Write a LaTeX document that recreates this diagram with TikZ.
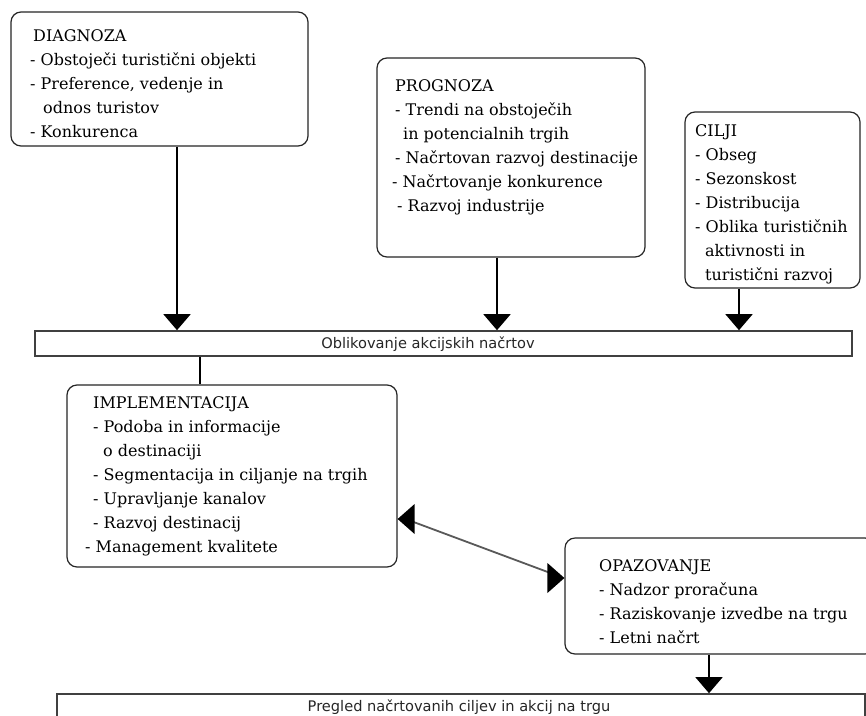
\documentclass[tikz,border=0pt]{standalone}
\usepackage{fontspec}
\setmainfont{DejaVu Serif}
\newfontfamily\barfont{DejaVu Sans}
\usetikzlibrary{arrows.meta,calc}
\begin{document}
\begin{tikzpicture}[x=1pt,y=-1pt,
  box/.style={draw=black!85, line width=1.2pt, rounded corners=10pt, inner sep=0pt, fill=white},
  bar/.style={draw=black!75, line width=1.6pt, inner sep=0pt, fill=white},
  txt/.style={anchor=north west, inner sep=0pt, align=left, font=\fontsize{16}{24}\selectfont},
  bartxt/.style={inner sep=0pt, text=black!85, font=\barfont\fontsize{14.6}{16}\selectfont},
  arr/.style={line width=1.6pt, -{Triangle[width=27pt,length=16pt]}},
  link/.style={line width=1.6pt},
  dlink/.style={line width=1.8pt, draw=black!65},
  tip/.style={fill=black}]
\useasboundingbox (0,0) rectangle (866,715);
\clip (0,0) rectangle (866,715);
\fill[white] (0,0) rectangle (866,715);

% boxes
\node[box, minimum width=297pt, minimum height=134pt] (diag) at (159.5,79) {};
\node[box, minimum width=268pt, minimum height=199pt] (prog) at (511,157.5) {};
\node[box, minimum width=175pt, minimum height=176pt] (cilji) at (772.5,200) {};
\node[bar, minimum width=817pt, minimum height=25pt] (bar1) at (443.5,343.5) {};
\node[box, minimum width=330pt, minimum height=182pt] (impl) at (232,476) {};
\node[box, minimum width=310pt, minimum height=116pt] (opaz) at (720,596) {};
\node[bar, minimum width=808pt, minimum height=46pt] (bar2) at (461,717) {};

% texts
\node[txt] (diagt) at (30,29) {\hspace*{3pt}DIAGNOZA\\- Obstoječi turistični objekti\\- Preference, vedenje in\\\hspace*{13pt}odnos turistov\\- Konkurenca};
\node[txt] (progt) at (392,79) {\hspace*{3pt}PROGNOZA\\\hspace*{3pt}- Trendi na obstoječih\\\hspace*{11pt}in potencialnih trgih\\\hspace*{3pt}- Načrtovan razvoj destinacije\\- Načrtovanje konkurence\\\hspace*{5pt}- Razvoj industrije};
\node[txt] (ciljit) at (695,124) {CILJI\\- Obseg\\- Sezonskost\\- Distribucija\\- Oblika turističnih\\\hspace*{10pt}aktivnosti in\\\hspace*{10pt}turistični razvoj};
\node[txt] (implt) at (85,396) {\hspace*{8pt}IMPLEMENTACIJA\\\hspace*{8pt}- Podoba in informacije\\\hspace*{18pt}o destinaciji\\\hspace*{8pt}- Segmentacija in ciljanje na trgih\\\hspace*{8pt}- Upravljanje kanalov\\\hspace*{8pt}- Razvoj destinacij\\- Management kvalitete};
\node[txt] (opazt) at (599,559) {OPAZOVANJE\\- Nadzor proračuna\\- Raziskovanje izvedbe na trgu\\- Letni načrt};
\node[bartxt] (bar1t) at (428,344) {Oblikovanje akcijskih načrtov};
\node[bartxt] (bar2t) at (459,707) {Pregled načrtovanih ciljev in akcij na trgu};

% connectors
\draw[arr] ([xshift=17.5pt]diag.south) -- ([xshift=17.5pt]diag.south |- bar1.north);
\draw[arr] ([xshift=-14pt]prog.south) -- ([xshift=-14pt]prog.south |- bar1.north);
\draw[arr] ([xshift=-33.5pt]cilji.south) -- ([xshift=-33.5pt]cilji.south |- bar1.north);
\draw[link] ([xshift=-32pt]impl.north) -- ([xshift=-32pt]impl.north |- bar1.south);
\draw[arr] ([xshift=-11pt]opaz.south) -- ([xshift=-11pt]opaz.south |- bar2.north);

\coordinate (tA) at ($(impl.east)+(0,43)$);
\coordinate (tB) at ($(opaz.west)+(0,-18)$);
\draw[dlink] ($(tA)+(16,3)$) -- ($(tB)+(-14,-5)$);
\fill[tip] (tA) -- ++(17,-15) -- ++(0,30) -- cycle;
\fill[tip] (tB) -- ++(-17,-15) -- ++(0,30) -- cycle;
\end{tikzpicture}
\end{document}
